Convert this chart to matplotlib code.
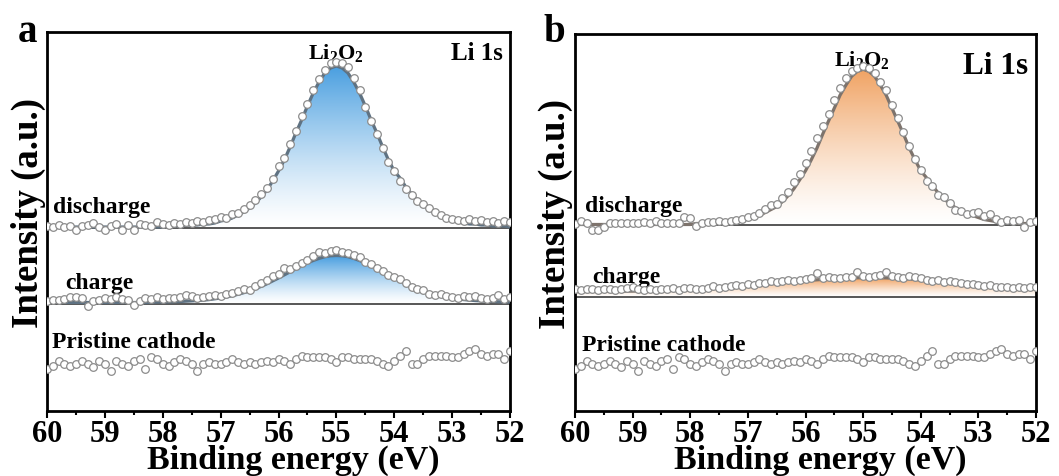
import numpy as np
import matplotlib.pyplot as plt
from matplotlib.colors import LinearSegmentedColormap

plt.rcParams['font.family'] = 'Liberation Serif'
plt.rcParams['font.weight'] = 'bold'
plt.rcParams['mathtext.fontset'] = 'custom'
plt.rcParams['mathtext.rm'] = 'Liberation Serif:bold'
plt.rcParams['mathtext.it'] = 'Liberation Serif:bold'
plt.rcParams['mathtext.bf'] = 'Liberation Serif:bold'

# binding energy grid, 0.1 eV steps from 60 to 52 eV
energy = np.linspace(60.0, 52.0, 81)

# ---- panel a: Li 1s, measured points (a.u., baseline ~0) ----
a_dis_pts = [2, 1, 3, 1, 2, -2, 2, 3, 5, 1, -2, 2, 4, -2, 3, -2, 4, 3, 2, 6,
             4, 3, 5, 4, 6, 5, 7, 6, 8, 9, 11, 10, 14, 15, 19, 23, 28, 34, 40, 49,
             62, 70, 84, 97, 112, 124, 138, 149, 158, 165, 166,
             165, 161, 150, 138, 121, 107, 94, 80, 66, 57,
             47, 39, 33, 27, 24, 20, 16, 13, 10, 9, 8, 7, 9, 7, 8, 6, 7, 5, 7, 6]
a_dis_fit = [1] * 20 + [1, 2, 2, 2, 3, 3, 3, 4, 4, 5,
             7, 8, 10, 13, 16, 20, 25, 31, 38, 47,
             57, 68, 81, 95, 108, 122, 135, 146, 155, 160, 162,
             160, 155, 146, 135, 122, 108, 95, 81, 68, 57,
             50, 41, 34, 28, 23, 19, 15, 12, 10, 8, 6, 5, 4, 4, 3, 3, 2, 2, 2, 1]
a_chg_pts = [3, 4, 4, 5, 7, 7, 6, -2, 3, 4, 6, 5, 7, 5, 4, -1, 3, 6, 5, 7,
             5, 6, 6, 7, 9, 8, 6, 7, 8, 9, 8, 10, 11, 13, 15, 14, 18, 21, 24, 28,
             30, 36, 35, 38, 41, 44, 48, 52, 51, 53, 54,
             52, 51, 49, 47, 42, 40, 36, 33, 29, 27,
             25, 21, 17, 15, 14, 10, 9, 10, 8, 7, 6, 8, 7, 8, 6, 5, 6, 9, 5, 7]
a_chg_fit = [1] * 15 + [1, 1, 1, 1, 1.5, 1.5,
             1.6, 1.7, 2, 2.3, 2.6, 2.9, 3.4, 3.9, 4.7,
             5.5, 6.6, 7.8, 9.2, 10.8, 12.6, 14.9, 17.1, 19.7, 22.6,
             25.5, 28.6, 31.7, 34.8, 37.9, 40.6, 43, 45.1, 46.8, 47.7, 48,
             47.7, 46.8, 45.1, 43, 40.6, 37.9, 34.8, 31.7, 28.6, 25.5,
             22.6, 19.7, 17.1, 14.9, 12.6, 10.8, 9.2, 7.8, 6.6, 5.5,
             4.7, 3.9, 3.4, 2.9, 2.6, 2.3, 2, 1.7, 1.6, 1.5]

# pristine cathode (same scan in both panels)
pristine_pts = [0, 3, 8, 5, 3, 5, 8, 5, 2, 8, 5, -2, 8, 5, 3, 8, 10, 0, 12, 10,
                5, 3, 7, 10, 8, 5, -2, 5, 7, 5, 5, 7, 10, 7, 5, 7, 5, 7, 8, 7,
                10, 8, 5, 10, 13, 12, 12, 12, 12, 10, 7, 12, 12, 10, 10, 10, 10, 8, 5, 3,
                8, 13, 18, 5, 5, 10, 13, 13, 13, 13, 12, 12, 15, 18, 20, 15, 13, 15, 15, 10, 18]

# ---- panel b ----
b_dis_pts = [1, 5, 2, -5, -5, -2, 3, 2, 3, 3, 2, 3, 4, 3, 5, 2, 2, 3, 3, 9,
             8, -1, 3, 4, 4, 5, 4, 5, 6, 7, 9, 10, 13, 17, 21, 22, 28, 34, 44, 52,
             63, 75, 88, 100, 112, 126, 138, 148, 155, 158, 160,
             158, 153, 144, 136, 121, 108, 94, 80, 67, 56,
             45, 40, 31, 29, 23, 16, 15, 12, 13, 14, 10, 12, 7, 4, 6, 5, 6, -2, 4, 5]
b_dis_fit = [1] * 20 + [1, 2, 2, 2, 3, 3, 3, 4, 4, 5,
             7, 8, 10, 13, 16, 19, 24, 30, 37, 46,
             55, 66, 78, 92, 105, 118, 131, 141, 150, 155, 157,
             155, 150, 141, 131, 118, 105, 92, 78, 66, 55,
             48, 40, 33, 27, 22, 18, 15, 12, 10, 8, 6, 5, 4, 4, 3, 3, 2, 2, 2, 1]
b_chg_pts = [8, 7, 8, 8, 7, 8, 8, 7, 8, 9, 10, 8, 7, 8, 7, 8, 8, 9, 7, 9,
             9, 8, 8, 9, 11, 9, 10, 11, 12, 11, 13, 12, 14, 14, 16, 15, 16, 17, 16, 17,
             18, 19, 24, 19, 20, 19, 19, 20, 20, 25, 21, 20, 21, 22, 25, 21, 20, 19, 21, 20,
             19, 17, 16, 17, 15, 16, 15, 14, 13, 13, 12, 11, 12, 10, 10, 10, 9, 10, 9, 10, 10]
b_chg_fit = [5.1, 5.1, 5.1, 5.2, 5.2, 5.2, 5.3, 5.3, 5.4, 5.5,
             5.5, 5.6, 5.7, 5.8, 6.0, 6.1, 6.3, 6.5, 6.7, 6.9,
             7.1, 7.4, 7.7, 8.0, 8.3, 8.7, 9.1, 9.6, 10.0, 10.4,
             10.9, 11.4, 11.9, 12.4, 13.0, 13.5, 14.0, 14.5, 15.1, 15.6,
             16.1, 16.5, 16.9, 17.3, 17.7, 18.0, 18.3, 18.6, 18.8, 18.9,
             19.0, 19.0, 19.0, 18.9, 18.8, 18.6, 18.3, 18.0, 17.7, 17.3,
             16.9, 16.5, 16.1, 15.6, 15.1, 14.5, 14.0, 13.5, 13.0, 12.4,
             11.9, 11.4, 10.9, 10.4, 10.0, 9.6, 9.1, 8.7, 8.3, 8.0, 7.7]

# vertical stacking offsets
offsets_a = {'discharge': 183, 'charge': 107.5, 'pristine': 42}
offsets_b = {'discharge': 186.5, 'charge': 115, 'pristine': 42}


def gradient_fill(ax, x, y, base, color):
    poly = ax.fill_between(x, base, y, facecolor='none', edgecolor='none')
    path = poly.get_paths()[0]
    cmap = LinearSegmentedColormap.from_list('grad', ['white', color])
    grad = np.linspace(0, 1, 256).reshape(-1, 1) ** 1.3
    im = ax.imshow(grad, extent=[60, 52, base, np.max(y)], origin='lower',
                   aspect='auto', cmap=cmap, zorder=1, interpolation='bilinear')
    im.set_clip_path(path, transform=ax.transData)


def draw_panel(ax, dis_pts, dis_fit, chg_pts, chg_fit, offs, fill_color, line_color):
    for pts, fit, key in [(dis_pts, dis_fit, 'discharge'), (chg_pts, chg_fit, 'charge')]:
        base = offs[key]
        fit_y = np.array(fit) + base
        ax.axhline(base, color='#3a3a3a', lw=1.2, zorder=2)
        gradient_fill(ax, energy, fit_y, base, fill_color)
        ax.plot(energy, fit_y, color=line_color, lw=2.3, zorder=3)
        ax.plot(energy, np.array(pts) + base, 'o', ms=5.5, mfc='white',
                mec='#8c8c8c', mew=0.9, zorder=4)
    ax.plot(energy, np.array(pristine_pts) + offs['pristine'], 'o', ms=5.5,
            mfc='white', mec='#8c8c8c', mew=0.9, zorder=4)

    ax.set_xlim(60, 52)
    ax.set_ylim(0, 379)
    ax.set_xticks(np.arange(60, 51, -1))
    ax.set_xticks(np.arange(59.5, 52, -1), minor=True)
    ax.set_yticks([])
    ax.tick_params(axis='x', which='major', direction='out', length=5, width=1.5,
                   labelsize=22, pad=0.5)
    ax.tick_params(axis='x', which='minor', direction='out', length=3, width=1.5)
    for s in ax.spines.values():
        s.set_linewidth(2.0)
    ax.set_xlabel('Binding energy (eV)', fontsize=24.5, fontweight='bold')
    ax.xaxis.label.set_va('baseline')
    ax.xaxis.set_label_coords(0.531, -0.151)
    ax.set_ylabel('Intensity (a.u.)', fontsize=26.5, fontweight='bold')


fig = plt.figure(figsize=(10.59, 4.77), dpi=100)
ax_a = fig.add_axes([47 / 1059, 65 / 477, 463 / 1059, 379 / 477])
ax_b = fig.add_axes([575 / 1059, 65 / 477, 461 / 1059, 377 / 477])

draw_panel(ax_a, a_dis_pts, a_dis_fit, a_chg_pts, a_chg_fit, offsets_a,
           '#4a9fe0', '#5f7282')
draw_panel(ax_b, b_dis_pts, b_dis_fit, b_chg_pts, b_chg_fit, offsets_b,
           '#f0a262', '#7d736c')
ax_a.yaxis.set_label_coords(-0.002, 0.525)
ax_b.yaxis.set_label_coords(-0.004, 0.525)

# panel a labels
ax_a.text(59.9, 204, 'discharge', fontsize=17, ha='left', va='center')
ax_a.text(59.69, 129, 'charge', fontsize=17, ha='left', va='center')
ax_a.text(59.91, 69, 'Pristine cathode', fontsize=17, ha='left', va='center')
ax_a.text(55.0, 359, r'Li$_2$O$_2$', fontsize=16, ha='center', va='center')
ax_a.text(52.12, 359, 'Li 1s', fontsize=18, ha='right', va='center')

# panel b labels
ax_b.text(59.83, 207, 'discharge', fontsize=17, ha='left', va='center')
ax_b.text(59.70, 135, 'charge', fontsize=17, ha='left', va='center')
ax_b.text(59.88, 67, 'Pristine cathode', fontsize=17, ha='left', va='center')
ax_b.text(55.02, 354, r'Li$_2$O$_2$', fontsize=16, ha='center', va='center')
ax_b.text(52.14, 347, 'Li 1s', fontsize=22.5, ha='right', va='center')

fig.text(18 / 1059, 1 - 42 / 477, 'a', fontsize=28, fontweight='bold', va='baseline')
fig.text(543 / 1059, 1 - 42 / 477, 'b', fontsize=28, fontweight='bold', va='baseline')

fig.savefig('out.png', dpi=100)
